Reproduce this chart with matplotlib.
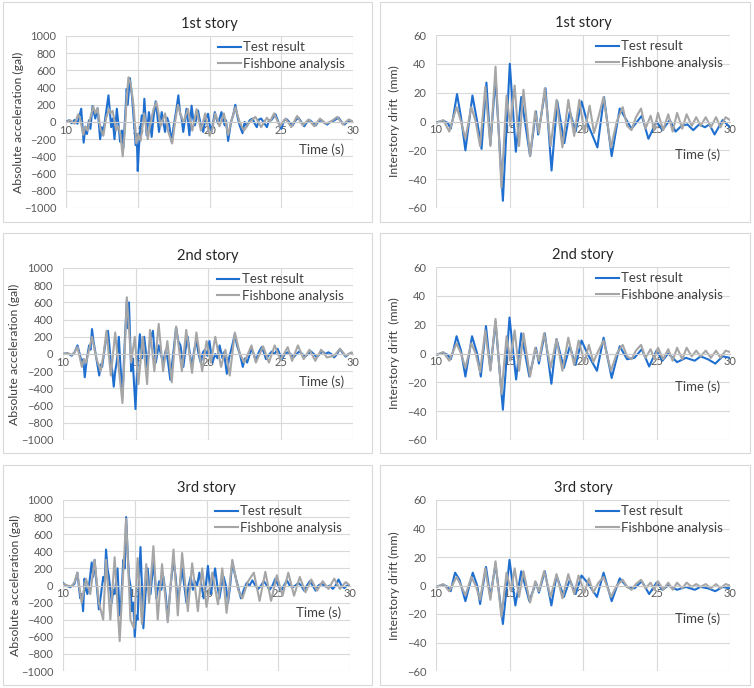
import matplotlib
matplotlib.use("Agg")
import matplotlib.pyplot as plt
from matplotlib.patches import Rectangle

plt.rcParams['font.family'] = ['Lato', 'DejaVu Sans']

# ---------------- data: (time s, value) ----------------
titles = ["1st story", "2nd story", "3rd story"]
legend_labels = ["Test result", "Fishbone analysis"]
x_ticks = [10, 15, 20, 25, 30]
acc_ticks = list(range(-1000, 1001, 200))
drift_ticks = list(range(-60, 61, 20))

acc1_test = [(10.0,0),(10.2,20),(10.4,-15),(10.6,25),(10.8,-20),(11.06,154),(11.23,-240),(11.35,-60),(11.46,-140),(11.6,20),(11.7,-80),(11.85,185),(12.04,40),(12.2,160),(12.38,-200),(12.5,-60),(12.6,-120),(12.75,60),(12.96,310),(13.15,-60),(13.25,40),(13.38,-200),(13.54,154),(13.65,-20),(13.77,-230),(13.9,-100),(14.0,-300),(14.23,385),(14.3,200),(14.45,510),(14.6,300),(14.7,77),(14.86,-270),(14.93,-150),(15.0,-570),(15.08,-300),(15.16,-115),(15.28,77),(15.38,0),(15.46,270),(15.62,-154),(15.78,115),(15.87,0),(15.97,-173),(16.1,60),(16.25,240),(16.35,100),(16.48,-115),(16.67,115),(16.78,0),(16.9,-115),(17.05,50),(17.18,-20),(17.36,-230),(17.5,-50),(17.65,100),(17.83,310),(17.95,100),(18.05,50),(18.17,-115),(18.4,154),(18.5,0),(18.6,-154),(18.75,190),(18.85,50),(18.98,-40),(19.2,135),(19.35,0),(19.56,-115),(19.7,20),(19.9,96),(20.0,-20),(20.14,-115),(20.37,115),(20.5,30),(20.6,-20),(20.83,115),(20.95,20),(21.06,-40),(21.15,20),(21.3,-220),(21.5,0),(21.65,80),(21.8,200),(21.95,60),(22.1,-40),(22.3,-130),(22.45,0),(22.6,-50),(22.8,20),(23.0,40),(23.15,-20),(23.3,-60),(23.45,30),(23.6,40),(23.8,-10),(24.0,-60),(24.15,20),(24.3,20),(24.6,90),(24.8,0),(25.0,-80),(25.2,20),(25.4,30),(25.6,-10),(25.8,-40),(26.0,20),(26.2,50),(26.4,0),(26.6,-50),(26.8,0),(27.0,20),(27.2,-10),(27.4,-40),(27.6,10),(27.8,20),(28.0,-10),(28.2,-30),(28.4,0),(28.6,10),(28.8,30),(29.0,50),(29.2,0),(29.4,-30),(29.6,0),(29.8,20),(30.0,0)]
acc1_fish = [(10.0,0),(10.3,20),(10.6,-20),(10.85,90),(11.0,30),(11.2,-150),(11.35,-50),(11.5,-100),(11.7,50),(11.9,180),(12.05,100),(12.2,160),(12.4,-80),(12.6,-160),(12.8,50),(13.0,150),(13.1,100),(13.25,130),(13.5,-100),(13.65,-50),(13.8,-150),(13.95,-400),(14.1,-100),(14.2,200),(14.35,520),(14.5,450),(14.7,200),(14.9,-250),(15.05,-150),(15.2,-220),(15.45,100),(15.7,-200),(15.9,0),(16.1,150),(16.3,230),(16.45,100),(16.6,-50),(16.9,100),(17.1,-100),(17.4,-250),(17.6,0),(17.8,200),(18.0,80),(18.2,0),(18.5,150),(18.8,-100),(19.1,150),(19.4,-100),(19.7,100),(20.0,-160),(20.2,-80),(20.4,100),(20.7,-50),(21.0,100),(21.3,-150),(21.5,0),(21.8,170),(22.1,0),(22.4,-100),(22.8,0),(23.2,60),(23.6,-60),(24.0,50),(24.2,0),(24.5,100),(24.9,-50),(25.3,40),(25.7,-60),(26.1,70),(26.5,-40),(26.9,30),(27.3,-50),(27.7,40),(28.1,-20),(28.5,10),(28.9,60),(29.3,-30),(29.7,30),(30.0,0)]

acc2_test = [(10.0,0),(10.3,10),(10.6,-20),(10.8,20),(11.0,100),(11.15,0),(11.3,-100),(11.4,-60),(11.5,-270),(11.65,-50),(11.8,100),(11.9,50),(12.0,290),(12.1,150),(12.2,50),(12.35,-100),(12.5,-250),(12.6,-120),(12.7,-150),(12.9,100),(13.1,270),(13.2,100),(13.3,-100),(13.4,-200),(13.5,-380),(13.6,-200),(13.7,-100),(13.85,200),(13.95,-100),(14.1,-500),(14.25,100),(14.4,620),(14.48,300),(14.55,600),(14.7,-200),(14.8,-50),(14.9,-350),(15.0,-640),(15.08,-300),(15.15,-100),(15.3,230),(15.45,-50),(15.6,200),(15.7,50),(15.8,-150),(16.0,150),(16.2,270),(16.3,50),(16.4,-100),(16.6,100),(16.75,0),(16.9,-100),(17.1,50),(17.25,-100),(17.4,-300),(17.6,0),(17.8,310),(17.95,150),(18.1,100),(18.3,-150),(18.45,50),(18.6,200),(18.75,0),(18.9,-150),(19.05,50),(19.2,150),(19.35,0),(19.5,-100),(19.65,20),(19.8,50),(19.95,-20),(20.1,150),(20.3,-100),(20.5,0),(20.65,-50),(20.8,100),(21.0,-50),(21.1,20),(21.3,-230),(21.45,-50),(21.6,50),(21.85,230),(22.0,100),(22.2,0),(22.4,-150),(22.55,-50),(22.7,-100),(23.0,60),(23.15,0),(23.3,-80),(23.5,20),(23.7,80),(23.85,20),(24.0,-60),(24.2,-10),(24.4,30),(24.6,0),(24.8,60),(24.95,0),(25.1,-60),(25.3,0),(25.5,20),(25.7,0),(25.9,-40),(26.1,0),(26.3,30),(26.5,0),(26.7,-30),(26.9,0),(27.1,30),(27.3,0),(27.5,-40),(27.7,0),(27.9,30),(28.1,0),(28.3,20),(28.5,0),(28.7,-40),(28.9,0),(29.1,60),(29.3,10),(29.5,-30),(29.7,0),(29.9,10),(30.0,0)]
acc2_fish = [(10.0,0),(10.3,10),(10.6,-10),(10.8,20),(11.0,80),(11.3,-150),(11.45,-60),(11.6,-100),(11.8,50),(12.0,200),(12.3,-50),(12.6,-200),(12.8,0),(13.0,270),(13.3,-250),(13.6,250),(13.8,-100),(13.9,-250),(14.1,-570),(14.25,0),(14.4,660),(14.55,300),(14.7,-100),(14.95,200),(15.2,-350),(15.5,200),(15.8,-350),(16.0,280),(16.3,-200),(16.6,350),(16.9,-200),(17.2,150),(17.5,-330),(17.8,320),(18.2,-200),(18.5,280),(18.9,-220),(19.2,250),(19.6,-200),(19.9,150),(20.2,-100),(20.5,200),(20.9,-150),(21.2,50),(21.5,-250),(21.85,250),(22.2,0),(22.5,-100),(23.0,100),(23.3,-100),(23.8,90),(24.2,-100),(24.6,100),(25.0,-70),(25.5,80),(25.8,-80),(26.2,100),(26.6,-60),(27.0,50),(27.4,-80),(27.8,50),(28.2,-40),(28.7,-20),(29.1,60),(29.5,-20),(29.9,20),(30.0,0)]

acc3_test = [(10.0,30),(10.2,0),(10.5,-20),(10.8,20),(11.0,150),(11.1,0),(11.2,-150),(11.3,-100),(11.4,-300),(11.5,80),(11.6,-50),(11.7,-100),(11.85,50),(12.0,270),(12.1,100),(12.2,300),(12.35,0),(12.5,-280),(12.65,-100),(12.8,100),(12.9,50),(13.0,420),(13.1,200),(13.2,100),(13.4,-200),(13.5,-50),(13.6,-100),(13.8,200),(13.95,-350),(14.05,-200),(14.2,300),(14.3,200),(14.4,800),(14.5,400),(14.6,100),(14.7,0),(14.8,-300),(14.9,-200),(15.0,-600),(15.1,-350),(15.2,-400),(15.3,100),(15.4,450),(15.5,0),(15.6,-500),(15.75,-100),(15.9,200),(16.0,0),(16.1,-100),(16.3,270),(16.4,100),(16.5,-150),(16.7,50),(16.85,-50),(17.0,100),(17.15,-100),(17.3,-400),(17.5,0),(17.7,300),(17.85,100),(18.0,-200),(18.15,0),(18.3,200),(18.45,0),(18.6,-200),(18.75,0),(18.9,100),(19.05,-50),(19.2,50),(19.35,0),(19.5,150),(19.65,0),(19.8,-150),(19.95,0),(20.1,230),(20.2,50),(20.3,-100),(20.45,50),(20.6,200),(20.75,0),(20.9,-150),(21.05,0),(21.2,100),(21.35,0),(21.5,-200),(21.65,0),(21.8,280),(21.95,150),(22.1,50),(22.25,-50),(22.4,-150),(22.6,-50),(22.8,30),(23.0,0),(23.2,60),(23.4,0),(23.6,-40),(23.8,0),(24.0,50),(24.2,0),(24.4,-50),(24.6,0),(24.8,80),(25.0,0),(25.2,-60),(25.4,0),(25.6,60),(25.8,0),(26.0,-20),(26.2,0),(26.4,30),(26.6,0),(26.8,-60),(27.0,0),(27.2,50),(27.4,0),(27.6,-60),(27.8,0),(28.0,20),(28.2,0),(28.4,-20),(28.6,0),(28.8,-40),(29.0,0),(29.2,70),(29.4,0),(29.6,-30),(29.8,0),(30.0,0)]
acc3_fish = [(10.0,20),(10.3,0),(10.6,-10),(10.8,40),(11.0,150),(11.3,-200),(11.6,80),(11.9,-100),(12.2,300),(12.5,-200),(12.8,-400),(13.0,300),(13.3,-400),(13.6,330),(13.95,-650),(14.15,0),(14.4,780),(14.7,-400),(14.95,-500),(15.2,320),(15.5,-450),(15.8,250),(16.0,-200),(16.3,460),(16.6,-400),(16.9,250),(17.3,-430),(17.7,420),(18.0,-350),(18.3,380),(18.7,-300),(19.0,260),(19.4,-300),(19.7,200),(20.0,-250),(20.4,150),(20.8,-220),(21.1,200),(21.4,-320),(21.8,300),(22.2,-50),(22.5,-150),(22.9,50),(23.3,150),(23.7,-180),(24.1,160),(24.5,-180),(24.9,120),(25.3,-120),(25.7,150),(26.1,-120),(26.5,100),(26.9,-80),(27.3,70),(27.7,-60),(28.1,50),(28.5,-40),(28.9,80),(29.3,-40),(29.7,40),(30.0,0)]

drift1_test = [(10.0,-0.7),(10.5,0.5),(10.8,-1),(11.0,-5),(11.15,2),(11.43,19),(11.7,3),(12.0,-20),(12.48,18),(12.8,0),(13.1,-19),(13.43,27),(13.7,-16),(14.05,30),(14.55,-55),(15.02,40),(15.43,-21),(15.8,17),(16.4,-24),(16.8,7),(16.95,-9),(17.45,23),(17.86,-34),(18.25,14),(18.73,-15),(19.1,7),(19.5,-7),(19.9,14),(20.3,-1),(20.98,-18),(21.43,17),(21.95,-24),(22.5,9),(23.3,-5),(24.0,4),(24.45,-12),(25.0,0),(25.4,-6),(25.9,1),(26.3,-7),(26.7,-3),(27.1,-2),(27.5,-6),(27.9,-2),(28.3,-4),(28.6,-2),(28.95,-9),(29.5,1),(30.0,-4)]
drift1_fish = [(10.0,-1),(10.5,1),(10.9,-7),(11.1,0),(11.4,10),(11.7,0),(12.0,-12),(12.4,10),(12.7,0),(13.0,-17),(13.35,24),(13.7,-17),(14.05,38),(14.45,-46),(14.8,18),(15.05,-3),(15.35,25),(15.65,-17),(15.95,22),(16.4,-24),(16.75,7),(17.0,-8),(17.4,23),(17.8,-17),(18.2,15),(18.6,-18),(19.0,15),(19.4,-10),(19.75,15),(20.1,-8),(20.45,11),(20.75,-8),(21.05,3),(21.4,17),(21.9,-18),(22.3,0),(22.7,10),(23.0,-3),(23.3,-6),(23.6,3),(23.95,9),(24.25,-5),(24.6,4),(24.85,-6),(25.1,6),(25.45,-6),(25.8,5),(26.1,-7),(26.4,6),(26.75,-5),(27.05,5),(27.4,-3),(27.7,3),(28.0,-3),(28.35,3),(28.7,-4),(29.05,3),(29.35,-4),(29.7,3),(30.0,1)]

drift2_test = [(10.0,-1),(10.5,0.5),(10.8,-1),(11.0,-4),(11.15,1),(11.4,12),(11.7,2),(12.0,-16),(12.45,12),(12.8,0),(13.05,-16),(13.4,19),(13.7,-11),(14.05,22),(14.55,-39),(15.0,25),(15.45,-18),(15.8,14),(16.35,-16),(16.8,4),(17.0,-7),(17.4,14),(17.85,-21),(18.2,10),(18.7,-10),(19.1,5),(19.5,-8),(19.9,9),(20.3,0),(20.95,-12),(21.4,11),(21.95,-17),(22.5,5),(23.0,-4),(23.5,-3),(24.0,3),(24.5,-9),(25.0,2),(25.4,-5),(25.8,0),(26.4,-6),(27.0,-3),(27.6,-5),(28.0,-2),(28.5,-4),(29.0,-7),(29.5,-2),(30.0,-3)]
drift2_fish = [(10.0,-1),(10.5,1),(10.9,-5),(11.1,0),(11.4,7),(11.7,0),(12.0,-10),(12.4,7),(12.7,0),(13.0,-13),(13.35,16),(13.7,-12),(14.05,24),(14.45,-28),(14.8,12),(15.05,-5),(15.35,16),(15.65,-12),(15.95,14),(16.4,-16),(16.75,4),(17.0,-5),(17.35,14),(17.8,-10),(18.2,10),(18.6,-12),(19.0,11),(19.4,-8),(19.7,9),(20.1,-6),(20.4,6),(20.7,-6),(21.05,2),(21.4,9),(21.9,-12),(22.3,0),(22.7,6),(23.0,-2),(23.3,-4),(23.6,2),(23.95,6),(24.25,-3),(24.6,3),(24.85,-4),(25.1,4),(25.45,-4),(25.8,3),(26.1,-5),(26.4,4),(26.75,-4),(27.05,4),(27.4,-2),(27.7,2),(28.0,-2),(28.35,2),(28.7,-3),(29.05,2),(29.35,-3),(29.7,2),(30.0,1)]

drift3_test = [(10.0,-1),(10.5,0.5),(10.8,-1),(11.0,-4),(11.15,3),(11.3,9),(11.6,4),(12.0,-11),(12.5,9),(12.8,0),(13.0,-13),(13.4,13),(13.7,-8),(14.05,15),(14.55,-27),(15.0,18),(15.4,-14),(15.8,10),(16.35,-11),(16.8,2),(17.0,-5),(17.4,10),(17.85,-14),(18.2,7),(18.7,-8),(19.1,4),(19.5,-6),(19.9,7),(20.3,2),(20.95,-8),(21.4,9),(21.95,-11),(22.5,5),(23.0,-1),(23.5,-2),(24.0,3),(24.5,-6),(25.0,2),(25.4,-3),(25.8,0),(26.4,-3),(27.0,-1),(27.6,-3),(28.0,-1),(28.5,-2),(29.0,-4),(29.5,-1),(30.0,-2)]
drift3_fish = [(10.0,-1),(10.5,1),(10.9,-4),(11.1,0),(11.4,6),(11.7,0),(12.0,-7),(12.4,6),(12.7,0),(13.0,-10),(13.35,12),(13.7,-10),(14.05,17),(14.45,-22),(14.8,9),(15.1,-4),(15.35,12),(15.65,-8),(15.95,10),(16.4,-12),(16.75,3),(17.0,-4),(17.35,10),(17.8,-8),(18.2,8),(18.6,-9),(19.0,8),(19.4,-6),(19.7,7),(20.1,-5),(20.4,5),(20.7,-5),(21.05,2),(21.4,6),(21.9,-8),(22.3,0),(22.7,4),(23.0,-1),(23.3,-3),(23.6,1),(23.95,4),(24.25,-2),(24.6,2),(24.85,-3),(25.1,3),(25.45,-3),(25.8,2),(26.1,-3),(26.4,2),(26.75,-2),(27.05,2),(27.4,-1),(27.7,1),(28.0,-1),(28.35,1),(28.7,-2),(29.05,1),(29.35,-2),(29.7,1),(30.0,0)]

acc_series = [(acc1_test, acc1_fish), (acc2_test, acc2_fish), (acc3_test, acc3_fish)]
drift_series = [(drift1_test, drift1_fish), (drift2_test, drift2_fish), (drift3_test, drift3_fish)]

# ---------------- layout (pixels of a 754x688 canvas) ----------------
W, H = 754, 688
BLUE = '#1f6fd0'
GREY = '#a6a6a6'
GRID = '#d9d9d9'
TXT = '#595959'
LW = 1.5

fig = plt.figure(figsize=(W/100, H/100), dpi=100)

def px_axes(x0, y0, x1, y1):
    return fig.add_axes([x0/W, 1 - y1/H, (x1 - x0)/W, (y1 - y0)/H])

def px_box(x0, y0, x1, y1):
    fig.add_artist(Rectangle((x0/W, 1 - y1/H), (x1 - x0)/W, (y1 - y0)/H,
                             transform=fig.transFigure, fill=False,
                             ec=GRID, lw=0.8))

left_axes = [(66, 36, 353, 208), (63, 268, 353, 440), (63, 500, 350, 671)]
right_axes = [(436, 35, 730, 208), (436, 267, 730, 440), (436, 500, 730, 671)]
left_boxes = [(3, 2, 372, 222), (3, 233, 372, 453), (3, 465, 372, 685)]
right_boxes = [(380, 2, 750, 222), (380, 233, 750, 453), (380, 465, 750, 685)]

def style(ax, yticks, ylabel, lab_x, time_y):
    ax.set_xlim(10, 30)
    ax.set_ylim(yticks[0], yticks[-1])
    ax.set_xticks(x_ticks)
    ax.set_yticks(yticks)
    ax.grid(True, color=GRID, lw=0.8)
    ax.set_axisbelow(True)
    for s in ['top', 'right', 'left']:
        ax.spines[s].set_visible(False)
    ax.spines['bottom'].set_position(('data', 0))
    ax.spines['bottom'].set_color('#c8c8c8')
    ax.spines['bottom'].set_linewidth(0.8)
    ax.tick_params(length=0, labelsize=8, colors=TXT)
    ax.tick_params(axis='x', pad=2)
    ax.tick_params(axis='y', pad=7)
    ax.set_ylabel(ylabel, fontsize=8.8, color='#404040')
    ax.yaxis.set_label_coords(lab_x, 0.5)
    ax.text(27.8, time_y, "Time (s)", fontsize=9.5, color='#404040',
            ha='center', va='center')

def draw(ax, pair):
    t_test, v_test = zip(*pair[0])
    t_fish, v_fish = zip(*pair[1])
    ax.plot(t_test, v_test, color=BLUE, lw=LW, label=legend_labels[0],
            solid_joinstyle='round')
    ax.plot(t_fish, v_fish, color=GREY, lw=LW, label=legend_labels[1],
            solid_joinstyle='round')

for i in range(3):
    px_box(*left_boxes[i])
    px_box(*right_boxes[i])

    ax = px_axes(*left_axes[i])
    draw(ax, acc_series[i])
    style(ax, acc_ticks, "Absolute acceleration (gal)", -0.148, -320)
    ax.set_title(titles[i], fontsize=10.5, color='#262626', pad=6)
    ax.legend(loc='upper left', bbox_to_anchor=(0.53, 0.97), frameon=False,
              fontsize=9.5, handlelength=1.7, handletextpad=0.2,
              labelspacing=0.35, borderpad=0, borderaxespad=0,
              labelcolor='#404040')

    ax = px_axes(*right_axes[i])
    draw(ax, drift_series[i])
    ylabel = "Interstory drift (mm)" if i == 2 else "Interstory drift  (mm)"
    style(ax, drift_ticks, ylabel, -0.122, -23)
    ax.set_title(titles[i], fontsize=10.5, color='#262626', pad=6)
    ax.legend(loc='upper left', bbox_to_anchor=(0.545, 0.97), frameon=False,
              fontsize=9.5, handlelength=1.7, handletextpad=0.2,
              labelspacing=0.35, borderpad=0, borderaxespad=0,
              labelcolor='#404040')

fig.savefig("out.png", dpi=100, facecolor='white')
